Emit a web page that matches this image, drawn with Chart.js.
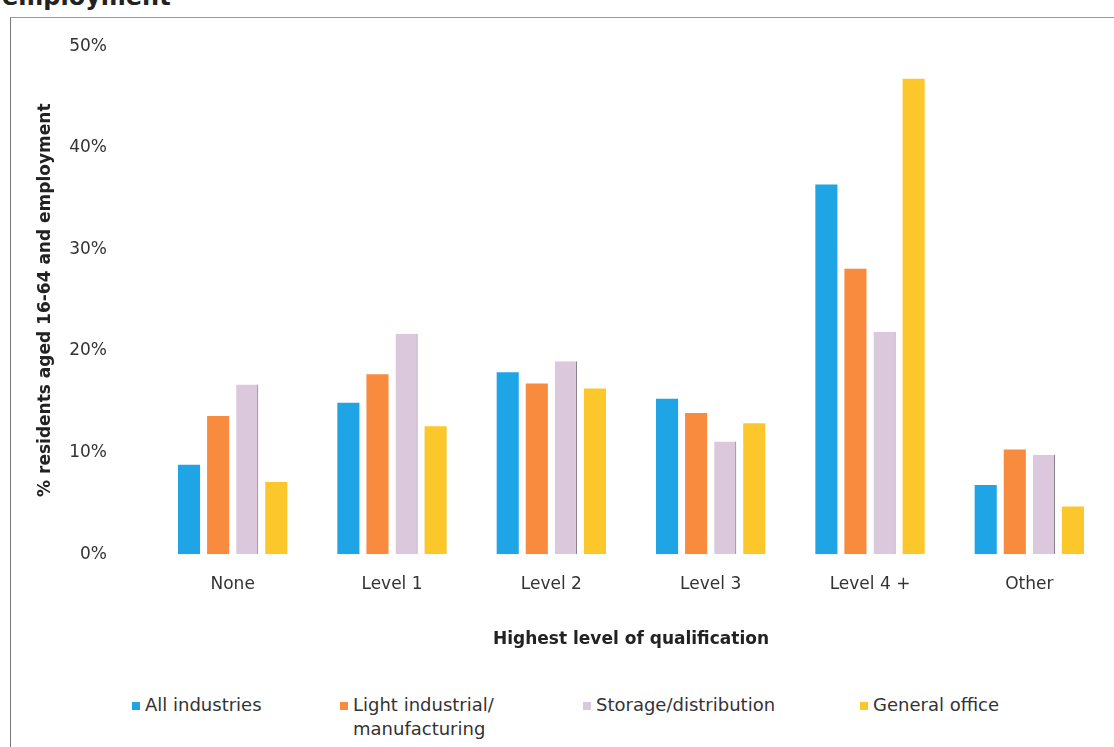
<!DOCTYPE html>
<html>
<head>
<meta charset="utf-8">
<script src="https://cdn.jsdelivr.net/npm/chart.js@4.4.1/dist/chart.umd.min.js"></script>
<style>
  body { margin: 0; background: #fff; width: 1114px; height: 747px; overflow: hidden; position: relative; font-family: "DejaVu Sans", Verdana, sans-serif; }
  #title { position: absolute; left: 2px; top: -17px; font-weight: bold; font-size: 24px; color: #222; white-space: nowrap; }
  #frame { position: absolute; left: 10px; top: 17px; width: 1120px; height: 740px; border-left: 1.5px solid #777; border-top: 1px solid #999; }
  #wrap { position: absolute; left: 0; top: -10px; width: 1114px; height: 670px; }
  #legend { position: absolute; top: 693px; left: 0; width: 1114px; height: 54px; font-size: 18px; color: #333; }
  .item { position: absolute; display: flex; align-items: flex-start; line-height: 24px; }
  .box { width: 8px; height: 8px; margin-top: 9px; margin-right: 5px; flex: none; }
</style>
</head>
<body>
<div id="title">employment</div>
<div id="frame"></div>
<div id="wrap"><canvas id="chart" width="1114" height="670"></canvas></div>
<div id="legend"></div>
<script>
// --- Data ---
const categories = ['None', 'Level 1', 'Level 2', 'Level 3', 'Level 4 +', 'Other'];
const seriesNames = ['All industries', 'Light industrial/\nmanufacturing', 'Storage/distribution', 'General office'];
const allIndustries = [8.8, 14.9, 17.9, 15.3, 36.4, 6.8];
const lightIndustrial = [13.6, 17.7, 16.8, 13.9, 28.1, 10.3];
const storageDistribution = [16.7, 21.7, 19.0, 11.1, 21.9, 9.8];
const generalOffice = [7.1, 12.6, 16.3, 12.9, 46.8, 4.7];
const yTicks = [0, 10, 20, 30, 40, 50];

const colors = ['#1fa5e6', '#f98b3e', '#dcc8dc', '#fcc72a'];
const borders = ['#1fa5e6', '#f98b3e', '#7a6a7a', '#fcc72a'];
const legendX = [132, 340, 583, 860];

const values = [allIndustries, lightIndustrial, storageDistribution, generalOffice];
const datasets = values.map((v, i) => ({
    label: seriesNames[i],
    data: v,
    backgroundColor: colors[i],
    borderColor: borders[i],
    borderWidth: i === 2 ? { left: 0, right: 1, top: 0, bottom: 0 } : 0,
    barPercentage: 0.76,
    categoryPercentage: 0.73
}));

const font = { family: '"DejaVu Sans", Verdana, sans-serif', size: 17 };

new Chart(document.getElementById('chart'), {
    type: 'bar',
    data: { labels: categories, datasets: datasets },
    options: {
        responsive: false,
        animation: false,
        layout: { padding: { left: 35, right: 5, top: 17, bottom: 10 } },
        plugins: { legend: { display: false }, tooltip: { enabled: false } },
        scales: {
            x: {
                grid: { display: false, drawTicks: false },
                border: { display: false },
                ticks: { color: '#333', font: font, padding: 20 },
                title: { display: true, text: 'Highest level of qualification', color: '#222',
                         font: { ...font, weight: 'bold' }, padding: { top: 15, bottom: 0 } }
            },
            y: {
                min: 0, max: 50,
                afterBuildTicks: axis => { axis.ticks = yTicks.map(v => ({ value: v })); },
                afterFit: axis => { axis.width = 118; },
                grid: { display: false, drawTicks: false },
                border: { display: false },
                ticks: { color: '#333', font: font, padding: 46, callback: v => v + '%' },
                title: { display: true, text: '% residents aged 16-64 and employment', color: '#222',
                         font: { ...font, weight: 'bold' }, padding: { top: 0, bottom: 0 } }
            }
        }
    }
});

// --- HTML legend ---
const legend = document.getElementById('legend');
seriesNames.forEach((name, i) => {
    const item = document.createElement('div');
    item.className = 'item';
    item.style.left = legendX[i] + 'px';
    const box = document.createElement('span');
    box.className = 'box';
    box.style.background = colors[i];
    const txt = document.createElement('span');
    txt.innerHTML = name.replace('\n', '<br>');
    item.appendChild(box);
    item.appendChild(txt);
    legend.appendChild(item);
});
</script>
</body>
</html>
